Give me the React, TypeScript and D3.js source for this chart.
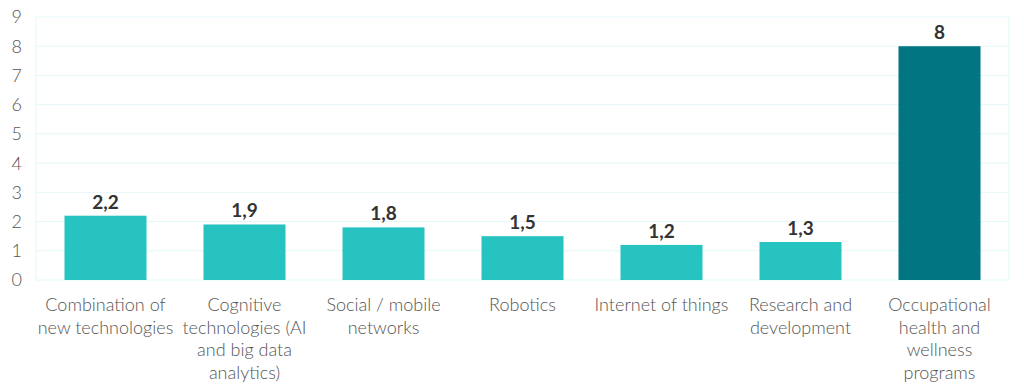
import React from "react";
import * as d3 from "d3";

const categories = [
  "Combination of\nnew technologies",
  "Cognitive\ntechnologies (AI\nand big data\nanalytics)",
  "Social / mobile\nnetworks",
  "Robotics",
  "Internet of things",
  "Research and\ndevelopment",
  "Occupational\nhealth and\nwellness\nprograms",
];
const values = [2.2, 1.9, 1.8, 1.5, 1.2, 1.3, 8];
const highlight = [false, false, false, false, false, false, true];
const yTicks = [0, 1, 2, 3, 4, 5, 6, 7, 8, 9];

const W = 1024;
const H = 392;
const left = 36;
const right = 1009;
const top = 17;
const bottom = 280;
const font = "Lato, 'Open Sans', sans-serif";

export default function App() {
  const x = d3
    .scaleBand<number>()
    .domain(d3.range(categories.length))
    .range([left, right])
    .paddingInner(0.41)
    .paddingOuter(0.205);
  const y = d3.scaleLinear().domain([0, 9]).range([bottom, top]);
  const step = (right - left) / categories.length;
  const fmt = (v: number) => String(v).replace(".", ",");

  return (
    <svg
      width={W}
      height={H}
      style={{ position: "absolute", left: 0, top: 0, background: "#fff" }}
    >
      {yTicks.map((t) => (
        <line
          key={"g" + t}
          x1={left}
          x2={right}
          y1={y(t)}
          y2={y(t)}
          stroke="#e3f8f8"
          strokeWidth={1}
        />
      ))}
      <line x1={left} x2={left} y1={top} y2={bottom} stroke="#e3f8f8" />
      <line x1={right} x2={right} y1={top} y2={bottom} stroke="#e3f8f8" />
      {yTicks.map((t) => (
        <text
          key={"t" + t}
          x={22}
          y={y(t)}
          dy="0.36em"
          textAnchor="end"
          fontFamily={font}
          fontWeight={300}
          fontSize={18}
          fill="#555"
        >
          {t}
        </text>
      ))}
      {values.map((v, i) => (
        <g key={"b" + i}>
          <rect
            x={x(i)}
            y={y(v)}
            width={x.bandwidth()}
            height={y(0) - y(v)}
            fill={highlight[i] ? "#017682" : "#26c3c1"}
          />
          <text
            x={(x(i) as number) + x.bandwidth() / 2}
            y={y(v) - 7}
            textAnchor="middle"
            fontFamily={font}
            fontWeight={700}
            fontSize={19}
            fill="#333"
          >
            {fmt(v)}
          </text>
        </g>
      ))}
      {categories.map((c, i) => (
        <text
          key={"c" + i}
          x={left + step * (i + 0.5)}
          y={311}
          textAnchor="middle"
          fontFamily={font}
          fontWeight={300}
          fontSize={18}
          fill="#555"
        >
          {c.split("\n").map((line, j) => (
            <tspan key={j} x={left + step * (i + 0.5)} dy={j === 0 ? 0 : 22.7}>
              {line}
            </tspan>
          ))}
        </text>
      ))}
    </svg>
  );
}
